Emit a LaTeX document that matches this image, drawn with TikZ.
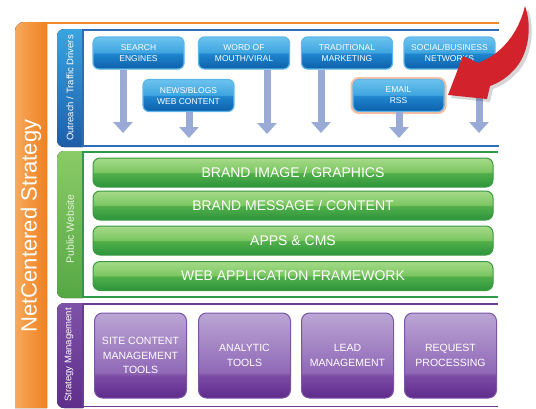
\documentclass[tikz,border=0pt]{standalone}
\usepackage{fontspec}
\setmainfont{Liberation Sans}
\usetikzlibrary{arrows.meta}
\definecolor{orL}{HTML}{F7A95C}
\definecolor{orR}{HTML}{F0801F}
\definecolor{orLine}{HTML}{F08A2C}
\definecolor{bTop}{HTML}{6CC3EE}
\definecolor{bHi}{HTML}{3FA5E0}
\definecolor{bMid}{HTML}{1F86CF}
\definecolor{bBot}{HTML}{0E5FAA}
\definecolor{bEdge}{HTML}{5CB8EA}
\definecolor{bLine}{HTML}{2E6DB5}
\definecolor{bStripT}{HTML}{3AA4DF}
\definecolor{bStripB}{HTML}{1E5DA8}
\definecolor{arrc}{HTML}{9AAAD6}
\definecolor{gTop}{HTML}{A6DB88}
\definecolor{gHi}{HTML}{7CC662}
\definecolor{gMid}{HTML}{52B04A}
\definecolor{gBot}{HTML}{2C943C}
\definecolor{gEdge}{HTML}{3A9A42}
\definecolor{gLine}{HTML}{2E9A48}
\definecolor{gStripT}{HTML}{8ACB66}
\definecolor{gStripB}{HTML}{55A845}
\definecolor{gText}{HTML}{E4F2DA}
\definecolor{pTop}{HTML}{BBA6D4}
\definecolor{pHi}{HTML}{9068B7}
\definecolor{pMid}{HTML}{7A4BA3}
\definecolor{pBot}{HTML}{5F2B8D}
\definecolor{pEdge}{HTML}{7C55A5}
\definecolor{pLine}{HTML}{6A3C98}
\definecolor{pStripT}{HTML}{7F52A9}
\definecolor{pStripB}{HTML}{5E2E8B}
\definecolor{redc}{HTML}{D2232C}
\definecolor{glow}{HTML}{F8B08A}
\pgfdeclareverticalshading{blueshade}{100bp}{color(0bp)=(bBot); color(25bp)=(bBot); color(49bp)=(bMid); color(51bp)=(bHi); color(75bp)=(bTop); color(100bp)=(bTop)}
\pgfdeclareverticalshading{greenshade}{100bp}{color(0bp)=(gBot); color(25bp)=(gBot); color(49bp)=(gMid); color(51bp)=(gHi); color(75bp)=(gTop); color(100bp)=(gTop)}
\pgfdeclareverticalshading{purpleshade}{100bp}{color(0bp)=(pBot); color(25bp)=(pBot); color(38bp)=(pMid); color(40bp)=(pHi); color(75bp)=(pTop); color(100bp)=(pTop)}
\tikzset{
  bluebox/.style={rectangle, rounded corners=6pt, minimum width=91pt, minimum height=32pt,
    draw=bEdge, line width=1.2pt, shading=blueshade, text=white,
    font=\fontsize{8.5}{11}\selectfont, align=center, inner sep=1pt},
  greenbar/.style={rectangle, rounded corners=7pt, minimum width=400pt, minimum height=29pt,
    draw=gEdge, line width=1pt, shading=greenshade, text=white,
    font=\fontsize{14}{16}\selectfont, inner sep=1pt},
  purplebox/.style={rectangle, rounded corners=8pt, minimum width=92pt, minimum height=85pt,
    draw=pEdge, line width=1pt, shading=purpleshade, text=white,
    font=\fontsize{10.5}{14.5}\selectfont, align=center, inner sep=1pt},
  flowarrow/.style={draw=arrc, line width=7pt, -{Triangle[width=19pt,length=11pt]}},
  striplabel/.style={rotate=90, font=\fontsize{9.5}{11}\selectfont, inner sep=0pt},
  panelline/.style={line width=1.6pt},
}
\begin{document}
\begin{tikzpicture}[x=1pt,y=-1pt]
\useasboundingbox (0,0) rectangle (536,408);
\fill[white] (0,0) rectangle (536,408);
% orange band
\fill[left color=orL, right color=orR] (15,408) [rounded corners=9pt] -- (15,22) [sharp corners] -- (47,22) -- (47,408) -- cycle;
\draw[orLine, line width=1.4pt] (47,23) -- (499,23);
\node[rotate=90, text=white, font=\fontsize{22}{24}\selectfont, inner sep=0pt] (title) at (31,226) {NetCentered Strategy};

% blue panel
\fill[top color=bStripT, bottom color=bStripB] (83,29) [rounded corners=7pt] -- (57,29) -- (57,147) [sharp corners] -- (83,147) -- cycle;
\draw[bLine, line width=1.5pt] (83,29) -- (83,147);
\draw[bLine, panelline] (83,30) -- (499,30);
\draw[bLine, panelline] (83,146) -- (499,146);
\node[striplabel, text=white] (lblout) at (70,88) {Outreach / Traffic Drivers};

% green panel
\fill[top color=gStripT, bottom color=gStripB] (83,151) [rounded corners=7pt] -- (57,151) -- (57,298) [sharp corners] -- (83,298) -- cycle;
\draw[gLine, line width=1.5pt] (83,151) -- (83,298);
\draw[gLine, panelline] (83,152) -- (498,152);
\draw[gLine, panelline] (83,297) -- (498,297);
\node[striplabel, text=gText, font=\fontsize{10.5}{12}\selectfont] (lblpub) at (70,229) {Public Website};

% purple panel
\fill[top color=pStripT, bottom color=pStripB] (83,303) [rounded corners=7pt] -- (57,303) -- (57,408) [sharp corners] -- (83,408) -- cycle;
\draw[pLine, line width=1.5pt] (83,303) -- (83,408);
\draw[pLine, panelline] (83,304) -- (498,304);
\draw[pLine, panelline] (83,406.5) -- (498,406.5);
\node[striplabel, text=white] (lblstr) at (69,355) {Strategy Management};

% blue boxes
\node[bluebox] (search) at (138.5,53) {SEARCH\\ENGINES};
\node[bluebox] (word) at (244,53) {WORD OF\\MOUTH/VIRAL};
\node[bluebox] (trad) at (347,53) {TRADITIONAL\\MARKETING};
\node[bluebox] (social) at (449.5,53) {SOCIAL/BUSINESS\\NETWORKS};
\node[bluebox, preaction={draw=glow, line width=5pt, opacity=0.8}] (email) at (398.5,95.5) {EMAIL\\RSS};

\node[bluebox] (news) at (188.5,95.5) {NEWS/BLOGS\\WEB CONTENT};

% arrow ends
\coordinate (e1) at (123,133);
\coordinate (e2) at (189,138);
\coordinate (e3) at (267,134);
\coordinate (e4) at (321,133);
\coordinate (e5) at (399,138);
\coordinate (e6) at (479,133);
\draw[flowarrow] (search.south -| e1) -- (e1);
\draw[flowarrow] (news.south -| e2) -- (e2);
\draw[flowarrow] (word.south -| e3) -- (e3);
\draw[flowarrow] (trad.south -| e4) -- (e4);
\draw[flowarrow] (email.south -| e5) -- (e5);
\draw[flowarrow] (social.south -| e6) -- (e6);

% red pointer arrow
\fill[black, opacity=0.16] (451,98) -- (466,59) -- (481,66) .. controls (503,58) and (521,38) .. (528,9) .. controls (535,28) and (533,58) .. (515,75) .. controls (508,82) and (501,86) .. (493,89) -- (490,102) -- cycle;
\fill[redc] (448,95) -- (463,56) -- (478,63) .. controls (500,55) and (518,35) .. (525,6) .. controls (532,25) and (530,55) .. (512,72) .. controls (505,79) and (498,83) .. (490,86) -- (487,99) -- cycle;

% green bars
\node[greenbar] (brandimg) at (293,172.5) {BRAND IMAGE / GRAPHICS};
\node[greenbar] (brandmsg) at (293,205.5) {BRAND MESSAGE / CONTENT};
\node[greenbar] (apps) at (293,240.5) {APPS \& CMS};
\node[greenbar] (webapp) at (293,276) {WEB APPLICATION FRAMEWORK};

% purple boxes
\node[purplebox] (site) at (140.5,355.5) {SITE CONTENT\\MANAGEMENT\\TOOLS};
\node[purplebox] (analytic) at (244.5,355.5) {ANALYTIC\\TOOLS};
\node[purplebox] (lead) at (347.5,355.5) {LEAD\\MANAGEMENT};
\node[purplebox] (request) at (450.5,355.5) {REQUEST\\PROCESSING};
\end{tikzpicture}
\end{document}
